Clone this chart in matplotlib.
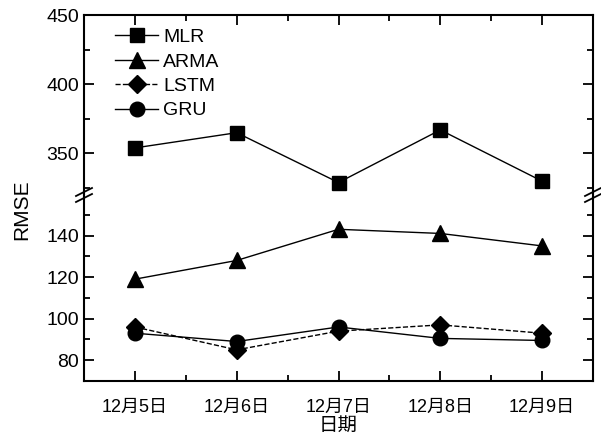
import matplotlib
matplotlib.use("Agg")
import matplotlib.pyplot as plt
from matplotlib.ticker import MultipleLocator
from matplotlib.lines import Line2D

plt.rcParams['font.family'] = ['Liberation Sans', 'Noto Sans CJK SC']

dates = ['12月5日', '12月6日', '12月7日', '12月8日', '12月9日']
mlr = [354, 365, 329, 367, 330]
arma = [119, 128, 143, 141, 135]
lstm = [96, 85, 94, 97, 93]
gru = [93, 89, 96, 90.5, 89.5]

W, H = 601, 437
fig = plt.figure(figsize=(W/100, H/100), dpi=100)
L, R = 84/W, 593/W
top_y, brk_y, bot_y = 15, 195, 381
ax_up = fig.add_axes([L, 1 - brk_y/H, R - L, (brk_y - top_y)/H])
ax_lo = fig.add_axes([L, 1 - bot_y/H, R - L, (bot_y - brk_y)/H])

x = list(range(len(dates)))
styles = [
    (mlr, 's', '-', 'MLR', 10),
    (arma, '^', '-', 'ARMA', 12),
    (lstm, 'D', '--', 'LSTM', 9),
    (gru, 'o', '-', 'GRU', 10.5),
]
for ax in (ax_up, ax_lo):
    for data, m, ls, lab, ms in styles:
        ax.plot(x, data, marker=m, linestyle=ls, color='black', lw=1.0,
                markersize=ms, label=lab)
    ax.set_xlim(-0.5, 4.5)
    ax.xaxis.set_minor_locator(MultipleLocator(0.5))
    for sp in ax.spines.values():
        sp.set_linewidth(1.5)
    ax.tick_params(which='both', direction='in', top=True, right=True,
                   labelsize=14, width=1.3)
    ax.tick_params(which='major', length=7)
    ax.tick_params(which='minor', length=4)

ax_up.set_ylim(320, 450)
ax_up.yaxis.set_major_locator(MultipleLocator(50))
ax_up.yaxis.set_minor_locator(MultipleLocator(25))
ax_up.spines['bottom'].set_visible(False)
ax_up.tick_params(which='both', bottom=False, labelbottom=False)

ax_lo.set_ylim(70, 159.5)
ax_lo.yaxis.set_major_locator(MultipleLocator(20))
ax_lo.yaxis.set_minor_locator(MultipleLocator(10))
ax_lo.spines['top'].set_visible(False)
ax_lo.tick_params(which='both', top=False)
ax_lo.set_xticks(x)
ax_lo.set_xticklabels(dates, fontsize=13)
ax_lo.tick_params(axis='x', pad=13)
ax_lo.set_xlabel('日期', fontsize=14, labelpad=1)

# break marks
for xf in (L, R):
    for dy in (-3, 3):
        yc = (1 - (brk_y + dy)/H) * H
        fig.add_artist(Line2D([xf*W - 8, xf*W + 8], [yc - 4, yc + 4],
                              transform=None, color='black', lw=1.3))

fig.text(22/W, 1 - 210/H, 'RMSE', rotation=90, ha='center', va='center',
         fontsize=15)

ax_up.legend(loc='upper left', bbox_to_anchor=(0.035, 1.0), frameon=False,
             fontsize=14, handlelength=2.2, labelspacing=0.35,
             handletextpad=0.25, borderaxespad=0.3)

fig.savefig('out.png', dpi=100)
